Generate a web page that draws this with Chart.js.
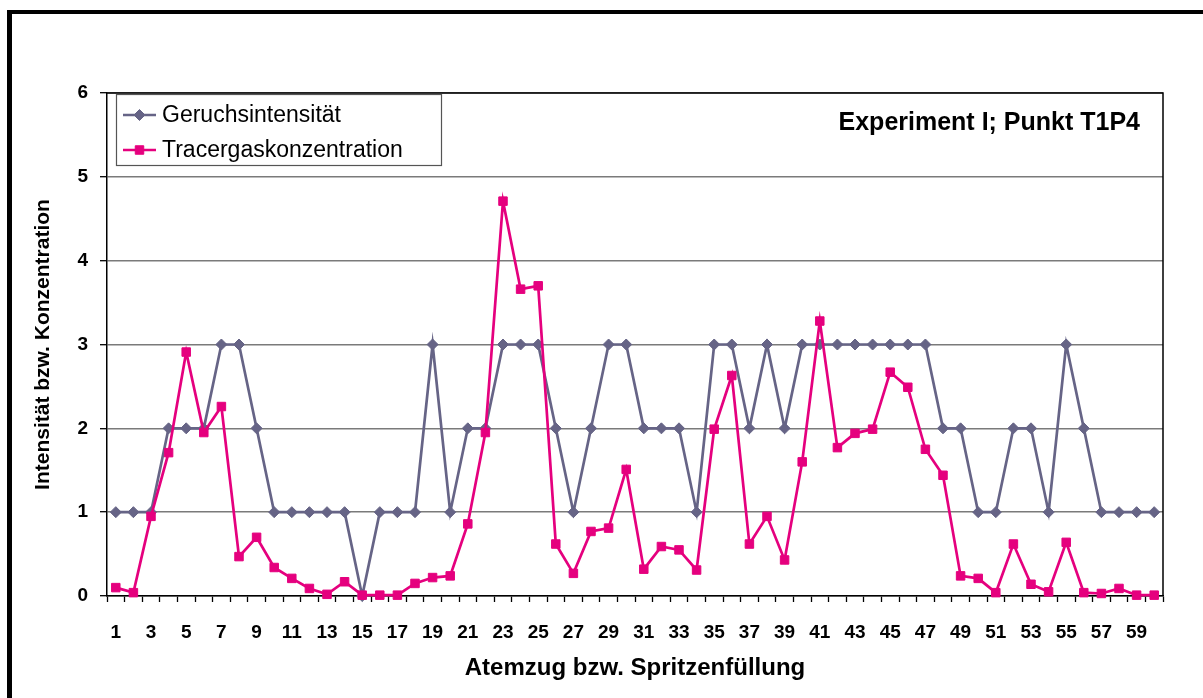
<!DOCTYPE html>
<html>
<head>
<meta charset="utf-8">
<script src="https://cdn.jsdelivr.net/npm/chart.js@4"></script>
<style>
  html, body { margin: 0; padding: 0; background: #fff; }
  #wrap { position: relative; width: 1203px; height: 698px; }
</style>
</head>
<body>
<div id="wrap"><canvas id="odorChart" width="1203" height="698"></canvas></div>
<script>
// Atemzug / Spritzenfuellung 1..60
const breaths = Array.from({ length: 60 }, (_, i) => String(i + 1));

const geruchsintensitaet = [
  1, 1, 1, 2, 2, 2, 3, 3, 2, 1,
  1, 1, 1, 1, 0, 1, 1, 1, 3, 1,
  2, 2, 3, 3, 3, 2, 1, 2, 3, 3,
  2, 2, 2, 1, 3, 3, 2, 3, 2, 3,
  3, 3, 3, 3, 3, 3, 3, 2, 2, 1,
  1, 2, 2, 1, 3, 2, 1, 1, 1, 1
];

const tracergas = [
  0.10, 0.04, 0.95, 1.71, 2.91, 1.95, 2.26, 0.47, 0.70, 0.34,
  0.21, 0.09, 0.02, 0.17, 0.01, 0.01, 0.01, 0.15, 0.22, 0.24,
  0.86, 1.95, 4.71, 3.66, 3.70, 0.62, 0.27, 0.77, 0.81, 1.51,
  0.32, 0.59, 0.55, 0.31, 1.99, 2.63, 0.62, 0.95, 0.43, 1.60,
  3.28, 1.77, 1.94, 1.99, 2.67, 2.49, 1.75, 1.44, 0.24, 0.21,
  0.04, 0.62, 0.14, 0.05, 0.64, 0.04, 0.03, 0.09, 0.01, 0.01
];

const yTicks = [0, 1, 2, 3, 4, 5, 6];

const grayColor = '#666486';
const pinkColor = '#e5007e';
const fontFam = '"Liberation Sans", Arial, sans-serif';

// frame, plot border, legend box and the caption in the plot
const decor = {
  id: 'decor',
  beforeDraw(chart) {
    const ctx = chart.ctx;
    ctx.save();
    ctx.fillStyle = '#fff';
    ctx.fillRect(0, 0, chart.width, chart.height);
    ctx.fillStyle = '#000';
    ctx.fillRect(7, 10, 5, chart.height - 10);
    ctx.fillRect(7, 10, chart.width - 7, 4);
    ctx.restore();
  },
  beforeDatasetsDraw(chart) {
    const ctx = chart.ctx;
    const a = chart.chartArea;
    ctx.save();
    ctx.strokeStyle = '#000';
    ctx.lineWidth = 1.5;
    ctx.beginPath();
    ctx.moveTo(a.left, a.top);
    ctx.lineTo(a.right, a.top);
    ctx.lineTo(a.right, a.bottom);
    ctx.stroke();

    // legend
    ctx.fillStyle = '#fff';
    ctx.fillRect(116, 94, 325, 71);
    ctx.strokeStyle = '#555';
    ctx.lineWidth = 1.2;
    ctx.strokeRect(116.5, 94.5, 325, 71);
    const rows = [115, 150];
    ctx.font = '23px ' + fontFam;
    ctx.textBaseline = 'middle';
    chart.data.datasets.forEach((ds, i) => {
      const y = rows[i];
      ctx.strokeStyle = ds.borderColor;
      ctx.lineWidth = ds.borderWidth;
      ctx.beginPath();
      ctx.moveTo(123, y);
      ctx.lineTo(156, y);
      ctx.stroke();
      ctx.fillStyle = ds.backgroundColor;
      ctx.lineWidth = 1;
      Chart.helpers.drawPoint(ctx, {
        pointStyle: ds.pointStyle,
        radius: ds.pointRadius,
        borderWidth: 1
      }, 139.5, y);
      ctx.fillStyle = '#000';
      ctx.fillText(ds.label, 162, y + 1);
    });

    ctx.font = 'bold 25px ' + fontFam;
    ctx.textAlign = 'right';
    ctx.fillText('Experiment I; Punkt T1P4', 1140, 123);
    ctx.restore();
  }
};

new Chart(document.getElementById('odorChart'), {
  type: 'line',
  plugins: [decor],
  data: {
    labels: breaths,
    datasets: [{
      label: 'Geruchsintensität',
      data: geruchsintensitaet,
      borderColor: grayColor,
      backgroundColor: grayColor,
      borderWidth: 2.7,
      pointStyle: 'rectRot',
      pointRadius: 5.5,
      pointBorderWidth: 1,
      tension: 0,
      clip: false,
      order: 1
    }, {
      label: 'Tracergaskonzentration',
      data: tracergas,
      borderColor: pinkColor,
      backgroundColor: pinkColor,
      borderWidth: 2.7,
      pointStyle: 'rect',
      pointRadius: 6,
      pointBorderWidth: 1,
      tension: 0,
      clip: false,
      order: 0
    }]
  },
  options: {
    responsive: false,
    animation: false,
    layout: { padding: { left: 0, top: 93, right: 40, bottom: 0 } },
    plugins: {
      legend: { display: false },
      tooltip: { enabled: false }
    },
    scales: {
      x: {
        offset: true,
        afterFit(scale) { scale.height = 102; },
        grid: {
          offset: true,
          drawOnChartArea: false,
          tickLength: 6,
          tickColor: '#000',
          tickWidth: 1.3
        },
        border: { color: '#000', width: 1.5 },
        ticks: {
          autoSkip: false,
          maxRotation: 0,
          padding: 19,
          color: '#000',
          font: { family: fontFam, size: 19, weight: 'bold' },
          callback(val, idx) { return idx % 2 === 0 ? breaths[idx] : ''; }
        },
        title: {
          display: true,
          text: 'Atemzug bzw. Spritzenfüllung',
          color: '#000',
          font: { family: fontFam, size: 24, weight: 'bold' },
          padding: { top: 0, bottom: 15 }
        }
      },
      y: {
        min: 0,
        max: 6,
        afterFit(scale) { scale.width = 107; },
        afterBuildTicks(scale) { scale.ticks = yTicks.map(v => ({ value: v })); },
        grid: {
          color: '#7a7a7a',
          lineWidth: 1.4,
          tickLength: 7,
          tickColor: '#000',
          tickWidth: 1.3
        },
        border: { color: '#000', width: 1.5 },
        ticks: {
          padding: 12,
          color: '#000',
          font: { family: fontFam, size: 19, weight: 'bold' }
        },
        title: {
          display: true,
          text: 'Intensität bzw. Konzentration',
          color: '#000',
          font: { family: fontFam, size: 21, weight: 'bold' },
          padding: { top: 31, bottom: 0 }
        }
      }
    }
  }
});
</script>
</body>
</html>
